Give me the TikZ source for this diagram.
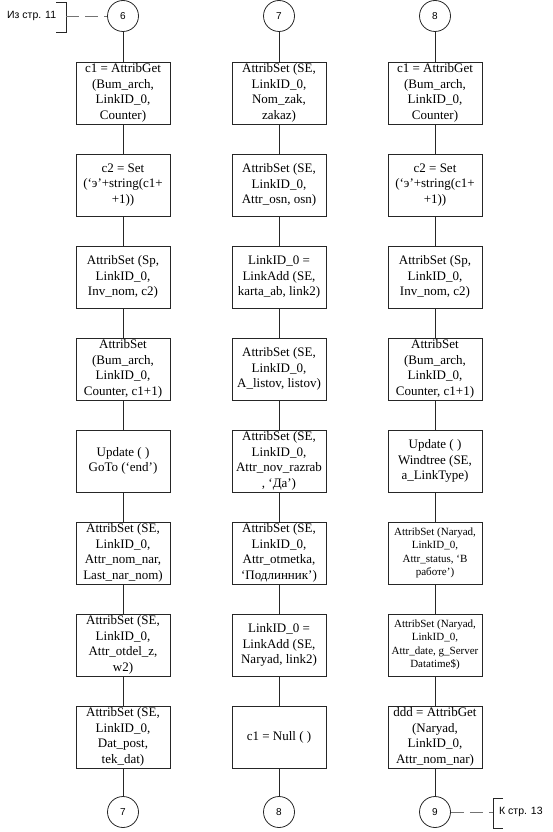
\documentclass[tikz,border=0pt]{standalone}
\usepackage{fontspec}
\setmainfont{Liberation Serif}
\newfontfamily\arialf{Liberation Sans}
\begin{document}
\begin{tikzpicture}[x=1pt,y=-1pt,
  stepbox/.style={draw=black!85,line width=0.8pt,rectangle,minimum width=94pt,minimum height=62pt,inner sep=0pt,align=center,font=\fontsize{13}{15.5}\selectfont},
  smallbox/.style={stepbox,font=\fontsize{11}{13.5}\selectfont},
  conn/.style={draw=black!85,circle,line width=0.8pt,minimum size=31pt,inner sep=0pt,font=\arialf\fontsize{10}{12}\selectfont},
  link/.style={draw=black!85,line width=0.8pt},
  dashlink/.style={draw=black!55,line width=0.9pt,dash pattern=on 13pt off 6pt},
  ref/.style={font=\arialf\fontsize{10.5}{12}\selectfont,inner sep=0pt}]
\useasboundingbox (0,0) rectangle (552,832);
% column 1
\node[conn] (t1) at (123,16) {6};
\node[stepbox] (a1) at (123,93) {c1 = AttribGet\\(Bum\_arch,\\LinkID\_0,\\Counter)};
\node[stepbox] (a2) at (123,185) {c2 = Set\\(‘э’+string(c1+\\+1))};
\node[stepbox] (a3) at (123,277) {AttribSet (Sp,\\LinkID\_0,\\Inv\_nom, c2)};
\node[stepbox] (a4) at (123,369) {AttribSet\\(Bum\_arch,\\LinkID\_0,\\Counter, c1+1)};
\node[stepbox] (a5) at (123,461) {Update ( )\\GoTo (‘end’)};
\node[stepbox] (a6) at (123,553) {AttribSet (SE,\\LinkID\_0,\\Attr\_nom\_nar,\\Last\_nar\_nom)};
\node[stepbox] (a7) at (123,645) {AttribSet (SE,\\LinkID\_0,\\Attr\_otdel\_z,\\w2)};
\node[stepbox] (a8) at (123,737) {AttribSet (SE,\\LinkID\_0,\\Dat\_post,\\tek\_dat)};
\node[conn] (b1) at (123,812) {7};
% column 2
\node[conn] (t2) at (279,16) {7};
\node[stepbox] (c1) at (279,93) {AttribSet (SE,\\LinkID\_0,\\Nom\_zak,\\zakaz)};
\node[stepbox] (c2) at (279,185) {AttribSet (SE,\\LinkID\_0,\\Attr\_osn, osn)};
\node[stepbox] (c3) at (279,277) {LinkID\_0 =\\LinkAdd (SE,\\karta\_ab, link2)};
\node[stepbox] (c4) at (279,369) {AttribSet (SE,\\LinkID\_0,\\A\_listov, listov)};
\node[stepbox] (c5) at (279,461) {AttribSet (SE,\\LinkID\_0,\\Attr\_nov\_razrab\\, ‘Да’)};
\node[stepbox] (c6) at (279,553) {AttribSet (SE,\\LinkID\_0,\\Attr\_otmetka,\\‘Подлинник’)};
\node[stepbox] (c7) at (279,645) {LinkID\_0 =\\LinkAdd (SE,\\Naryad, link2)};
\node[stepbox] (c8) at (279,737) {c1 = Null ( )};
\node[conn] (b2) at (279,812) {8};
% column 3
\node[conn] (t3) at (435,16) {8};
\node[stepbox] (d1) at (435,93) {c1 = AttribGet\\(Bum\_arch,\\LinkID\_0,\\Counter)};
\node[stepbox] (d2) at (435,185) {c2 = Set\\(‘э’+string(c1+\\+1))};
\node[stepbox] (d3) at (435,277) {AttribSet (Sp,\\LinkID\_0,\\Inv\_nom, c2)};
\node[stepbox] (d4) at (435,369) {AttribSet\\(Bum\_arch,\\LinkID\_0,\\Counter, c1+1)};
\node[stepbox] (d5) at (435,461) {Update ( )\\Windtree (SE,\\a\_LinkType)};
\node[smallbox] (d6) at (435,553) {AttribSet (Naryad,\\LinkID\_0,\\Attr\_status, ‘В\\работе’)};
\node[smallbox] (d7) at (435,645) {AttribSet (Naryad,\\LinkID\_0,\\Attr\_date, g\_Server\\Datatime\$)};
\node[stepbox] (d8) at (435,737) {ddd = AttribGet\\(Naryad,\\LinkID\_0,\\Attr\_nom\_nar)};
\node[conn] (b3) at (435,812) {9};
% connectors
\foreach \c in {a,c,d}{
  \path[link] (\c1) -- (\c2) (\c2) -- (\c3) (\c3) -- (\c4) (\c4) -- (\c5)
              (\c5) -- (\c6) (\c6) -- (\c7) (\c7) -- (\c8);
}
\path[link] (t1) -- (a1) (a8) -- (b1);
\path[link] (t2) -- (c1) (c8) -- (b2);
\path[link] (t3) -- (d1) (d8) -- (b3);
% off-page references
\node[ref,anchor=west] (lt) at (7,16) {Из стр. 11};
\coordinate (lb) at (66,16);
\draw[black!85,line width=0.8pt] (56,2) -- (66,2) -- (66,32) -- (56,32);
\path[dashlink] (lb) -- (t1);
\node[ref,anchor=west] (rt) at (499,812) {К стр. 13};
\coordinate (rb) at (493,812);
\draw[black!85,line width=0.8pt] (503,798) -- (493,798) -- (493,828) -- (503,828);
\path[dashlink] (b3) -- (rb);
\end{tikzpicture}
\end{document}
